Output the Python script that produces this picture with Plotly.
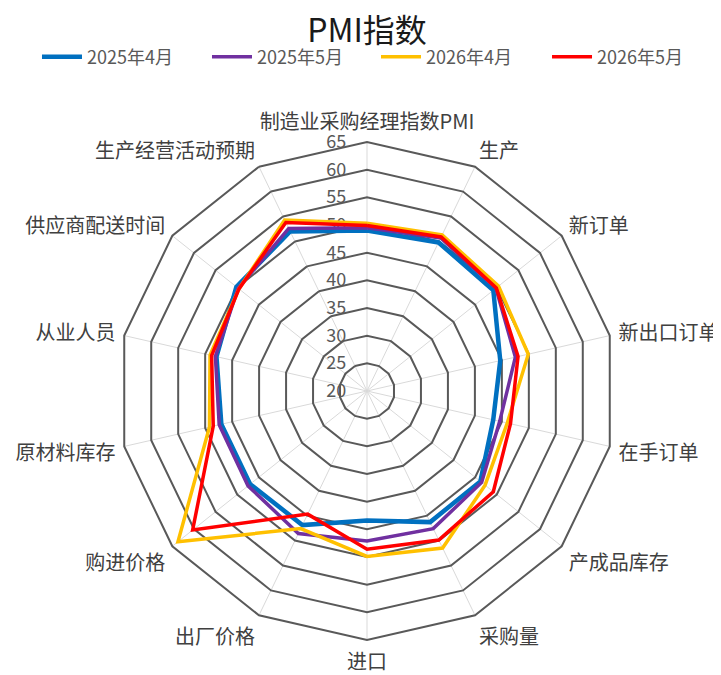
import plotly.graph_objects as go

categories = ["制造业采购经理指数PMI", "生产", "新订单", "新出口订单", "在手订单", "产成品库存",
              "采购量", "进口", "出厂价格", "购进价格", "原材料库存", "从业人员",
              "供应商配送时间", "生产经营活动预期"]

apr2025 = [49.0, 49.8, 49.2, 44.7, 43.4, 46.2, 46.3, 43.4, 46.9, 47.0, 47.0, 47.9, 50.2, 52.0]
may2025 = [49.5, 50.7, 49.8, 47.5, 44.6, 46.5, 47.6, 47.1, 48.6, 47.5, 47.4, 48.1, 49.8, 52.6]
apr2026 = [50.3, 51.3, 50.4, 49.9, 46.0, 47.3, 51.5, 49.9, 47.6, 63.7, 49.2, 49.1, 49.6, 54.3]
may2026 = [49.9, 50.9, 49.9, 48.0, 46.6, 49.2, 49.9, 48.6, 44.7, 60.3, 48.5, 48.8, 49.6, 53.8]

series_names = ["2025年4月", "2025年5月", "2026年4月", "2026年5月"]
series_values = [apr2025, may2025, apr2026, may2026]
series_colors = ["#0070C0", "#7030A0", "#FFC000", "#FF0000"]
series_widths = [4.5, 3.5, 3.5, 3.5]
legend_x = [0.0402, 0.276, 0.5104, 0.7476]

tick_vals = [20, 25, 30, 35, 40, 45, 50, 55, 60, 65]

FONT = "Noto Sans CJK SC"

fig = go.Figure()
legend_ids = ["legend", "legend2", "legend3", "legend4"]
for name, vals, col, w, lid in zip(series_names, series_values, series_colors, series_widths, legend_ids):
    fig.add_trace(go.Scatterpolar(
        r=vals + [vals[0]],
        theta=categories + [categories[0]],
        mode="lines",
        name=name,
        line=dict(color=col, width=w),
        hoverinfo="skip",
        legend=lid,
        showlegend=True,
    ))

legend_common = dict(orientation="h", xref="container", xanchor="left",
                     yref="container", y=0.9274, yanchor="middle",
                     font=dict(family=FONT, size=18, color="#595959"),
                     itemwidth=40, bgcolor="rgba(0,0,0,0)")
legend_layout = {lid: dict(legend_common, x=lx) for lid, lx in zip(legend_ids, legend_x)}

fig.update_layout(
    width=721, height=675,
    showlegend=True,
    paper_bgcolor="white", plot_bgcolor="white",
    margin=dict(l=110, r=113, t=134, b=43, autoexpand=False),
    font=dict(family=FONT, color="#404040", size=16),
    title=dict(text="PMI指数", x=0.5, xref="paper", xanchor="center",
               y=0.9665, yref="container", yanchor="middle",
               font=dict(family=FONT, size=32, color="#1a1a1a")),
    polar=dict(
        bgcolor="white",
        gridshape="linear",
        domain=dict(x=[0, 1], y=[0, 1]),
        radialaxis=dict(
            range=[20, 65], tickvals=tick_vals, angle=90, tickangle=90,
            showline=False, ticks="outside", ticklen=14, tickcolor="rgba(0,0,0,0)",
            side="counterclockwise", layer="below traces",
            gridcolor="#595959", gridwidth=2,
            tickfont=dict(family=FONT, size=18, color="#595959"),
        ),
        angularaxis=dict(
            rotation=90, direction="clockwise", layer="below traces",
            gridcolor="#d9d9d9", gridwidth=1,
            linecolor="#595959", linewidth=2, showline=True,
            ticks="outside", ticklen=4, tickcolor="rgba(0,0,0,0)",
            tickfont=dict(family=FONT, size=20, color="#404040"),
        ),
    ),
    **legend_layout,
)

fig.write_html("out.html")
